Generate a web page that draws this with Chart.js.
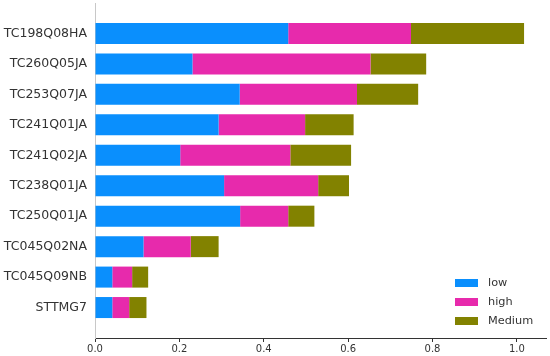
<!DOCTYPE html>
<html>
<head>
<meta charset="utf-8">
<script src="https://cdn.jsdelivr.net/npm/chart.js@4"></script>
<style>
    html, body { margin: 0; padding: 0; background: #fff; }
    #wrap { width: 550px; height: 356px; }
</style>
</head>
<body>
<div id="wrap"><canvas id="featureChart"></canvas></div>
<script>
const features = ["TC198Q08HA", "TC260Q05JA", "TC253Q07JA", "TC241Q01JA", "TC241Q02JA",
    "TC238Q01JA", "TC250Q01JA", "TC045Q02NA", "TC045Q09NB", "STTMG7"];
const lowValues = [0.458, 0.231, 0.343, 0.293, 0.202, 0.306, 0.344, 0.115, 0.041, 0.041];
const highValues = [0.291, 0.422, 0.278, 0.205, 0.261, 0.223, 0.114, 0.112, 0.047, 0.040];
const mediumValues = [0.268, 0.132, 0.145, 0.115, 0.144, 0.073, 0.062, 0.066, 0.038, 0.041];
const xTicks = [0.0, 0.2, 0.4, 0.6, 0.8, 1.0];

const toPoints = (values) => values.map((v, i) => ({ x: v, y: i }));

// legend drawn inside the plot, lower right
const cornerLegend = {
    id: 'cornerLegend',
    afterDraw(chart) {
        const ctx = chart.ctx;
        const area = chart.chartArea;
        const left = area.right - 91;
        const top = area.bottom - 59;
        ctx.save();
        ctx.font = '11.3px "DejaVu Sans"';
        ctx.textBaseline = 'middle';
        chart.data.datasets.forEach((ds, i) => {
            const y = top + i * 19;
            ctx.fillStyle = ds.backgroundColor;
            ctx.fillRect(left, y, 23, 8);
            ctx.fillStyle = '#333';
            ctx.fillText(ds.label, left + 33, y + 4);
        });
        ctx.restore();
    }
};

const chartElement = document.getElementById("featureChart");
const featureChart = new Chart(chartElement, {
    type: 'bar',
    data: {
        datasets: [
            { label: "low", data: toPoints(lowValues), backgroundColor: '#0a8ffd' },
            { label: "high", data: toPoints(highValues), backgroundColor: '#e72aac' },
            { label: "Medium", data: toPoints(mediumValues), backgroundColor: '#828200' }
        ]
    },
    options: {
        indexAxis: 'y',
        responsive: true,
        maintainAspectRatio: false,
        animation: { duration: 0 },
        barPercentage: 0.69,
        categoryPercentage: 1.0,
        layout: { padding: { top: 3, right: 4, left: 0, bottom: 0 } },
        plugins: {
            legend: { display: false },
            tooltip: { enabled: false }
        },
        scales: {
            x: {
                type: 'linear',
                stacked: true,
                min: 0,
                max: 1.069,
                afterBuildTicks: (scale) => {
                    scale.ticks = xTicks.map(v => ({ value: v }));
                },
                afterFit: (scale) => { scale.height = 18; },
                border: { color: '#333', width: 1 },
                grid: { drawOnChartArea: false, drawTicks: true, tickLength: 4, color: '#333' },
                ticks: {
                    padding: 1,
                    color: '#333',
                    font: { family: 'DejaVu Sans', size: 10 },
                    callback: (v) => v.toFixed(1)
                }
            },
            y: {
                type: 'linear',
                stacked: true,
                reverse: true,
                offset: false,
                min: -1,
                max: 10,
                afterBuildTicks: (scale) => {
                    scale.ticks = features.map((_, i) => ({ value: i }));
                },
                afterFit: (scale) => {
                    scale.width = 95;
                    scale.paddingTop = 0;
                    scale.paddingBottom = 0;
                },
                border: { color: '#c8c8c8', width: 1 },
                grid: { offset: false, drawOnChartArea: false, drawTicks: false },
                ticks: {
                    padding: 8,
                    color: '#333',
                    font: { family: 'DejaVu Sans', size: 12.5 },
                    callback: (v) => features[v] || ''
                }
            }
        }
    },
    plugins: [cornerLegend]
});
</script>
</body>
</html>
